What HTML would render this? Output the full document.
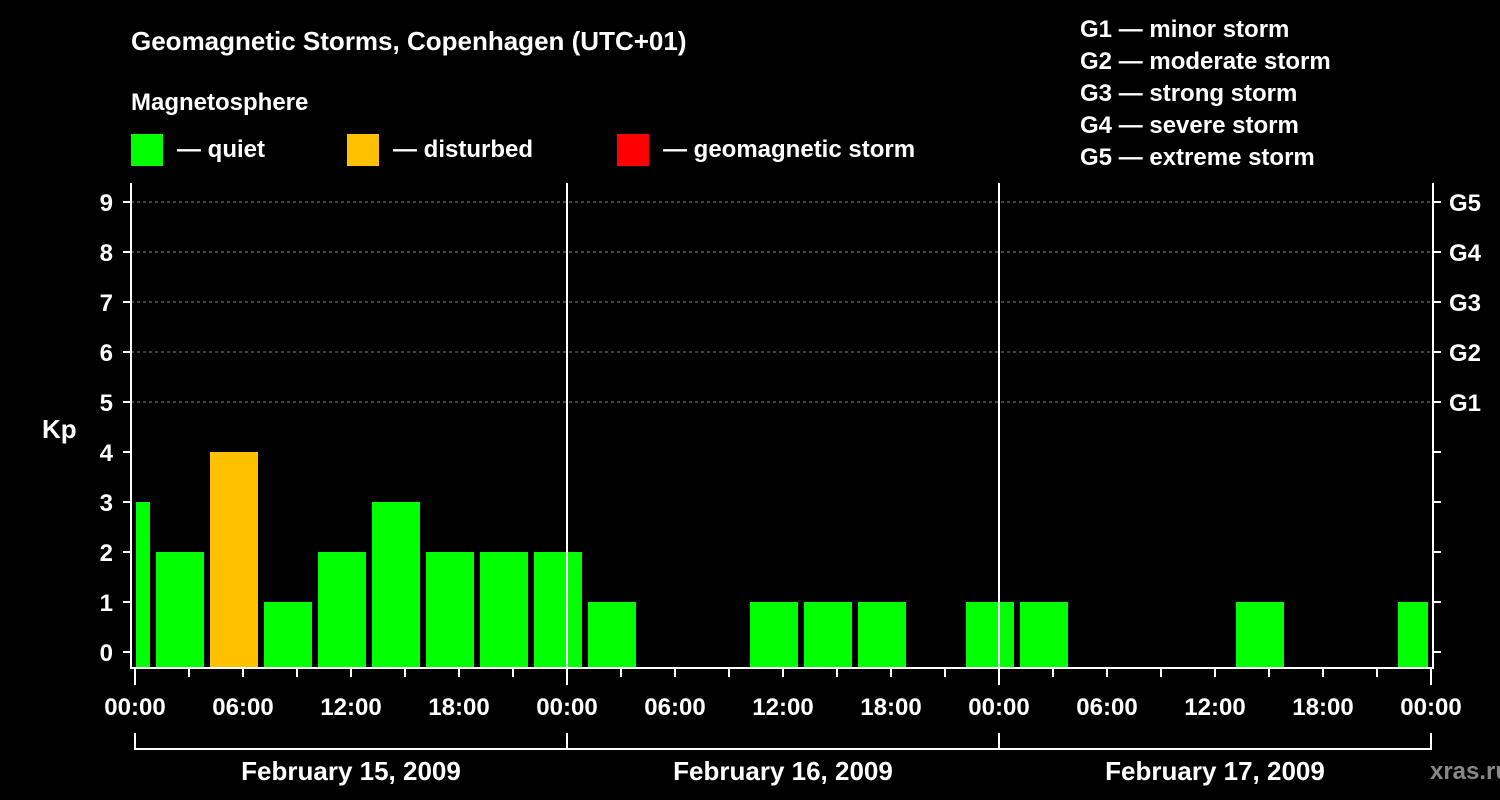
<!DOCTYPE html>
<html><head><meta charset="utf-8"><style>
body{margin:0;background:#000;}
svg{display:block;font-family:"Liberation Sans",sans-serif;font-weight:bold;}
</style></head><body>
<svg id="c" width="1500" height="800" viewBox="0 0 1500 800">
<rect width="1500" height="800" fill="#000"/>
<text x="131" y="50" fill="#fff" font-size="26">Geomagnetic Storms, Copenhagen (UTC+01)</text>
<text x="131" y="110" fill="#fff" font-size="24">Magnetosphere</text>
<g><rect x="131" y="134" width="32" height="32" fill="#00ff00"/><text x="177" y="157" fill="#fff" font-size="24">— quiet</text></g>
<g><rect x="347" y="134" width="32" height="32" fill="#ffc000"/><text x="393" y="157" fill="#fff" font-size="24">— disturbed</text></g>
<g><rect x="617" y="134" width="32" height="32" fill="#ff0000"/><text x="663" y="157" fill="#fff" font-size="24">— geomagnetic storm</text></g>
<g fill="#fff" font-size="24">
<text x="1080" y="37">G1 — minor storm</text><text x="1080" y="69">G2 — moderate storm</text><text x="1080" y="101">G3 — strong storm</text><text x="1080" y="133">G4 — severe storm</text><text x="1080" y="165">G5 — extreme storm</text>
</g>
<text x="42" y="438" fill="#fff" font-size="26">Kp</text>
<text x="1470" y="779" fill="#888" font-size="24" text-anchor="middle">xras.ru</text>
<g id="plot"></g>
</svg>
<script>
const kpValues=[3,2,4,1,2,3,2,2,2,1,0,0,1,1,1,0,1,1,0,0,0,1,0,0,1];
const dayLabels=["February 15, 2009","February 16, 2009","February 17, 2009"];
const yTicks=[0,1,2,3,4,5,6,7,8,9];
const gLabels=["G1","G2","G3","G4","G5"];
const timeLabels=["00:00","06:00","12:00","18:00","00:00","06:00","12:00","18:00","00:00","06:00","12:00","18:00","00:00"];
const X0=135,PX_H=18,L=131,R=1433,T=183,B=668;
const x=h=>X0+h*PX_H, y=v=>652-v*50;
const ns="http://www.w3.org/2000/svg", g=document.getElementById('plot');
function mk(t,a){const e=document.createElementNS(ns,t);for(const k in a)e.setAttribute(k,a[k]);g.appendChild(e);return e;}
yTicks.forEach(v=>{if(v>=5){const l=mk('line',{x1:L,x2:R,y1:y(v),y2:y(v),stroke:'#888','stroke-dasharray':'3,3'});

}
const t=mk('text',{x:113,y:y(v)+9,fill:'#fff','font-size':24,'text-anchor':'end'});t.textContent=v;


mk('line',{x1:L-8,x2:L,y1:y(v),y2:y(v),stroke:'#fff','stroke-width':2});
mk('line',{x1:R,x2:R+8,y1:y(v),y2:y(v),stroke:'#fff','stroke-width':2});});
gLabels.forEach((s,i)=>{const t=mk('text',{x:1449,y:y(i+5)+9,fill:'#fff','font-size':24});t.textContent=s;

});
kpValues.forEach((v,i)=>{if(v<=0)return;let s=x(-2+3*i)+3,e=x(1+3*i)-3;s=Math.max(s,L+5);e=Math.min(e,R-5);
const r=mk('rect',{x:s,y:y(v),width:e-s,height:B-y(v),fill:v>=5?'#ff0000':v>=4?'#ffc000':'#00ff00'});

});
[1,2].forEach(d=>{const l=mk('line',{x1:x(24*d),x2:x(24*d),y1:T,y2:B,stroke:'#fff','stroke-width':2});

});
const f=mk('path',{d:`M${L} ${T}V${B}H${R}V${T}`,fill:'none',stroke:'#fff','stroke-width':2});


for(let h=0;h<=72;h+=3)mk('line',{x1:x(h),x2:x(h),y1:B,y2:B+(h%24==0?17:9),stroke:'#fff','stroke-width':2});
timeLabels.forEach((s,i)=>{const t=mk('text',{x:x(6*i),y:715,fill:'#fff','font-size':24,'text-anchor':'middle'});t.textContent=s;

});
mk('path',{d:`M${x(0)} 733V749H${x(72)}V733M${x(24)} 733V749M${x(48)} 733V749`,fill:'none',stroke:'#fff','stroke-width':2});
dayLabels.forEach((s,i)=>{const t=mk('text',{x:x(24*i+12),y:780,fill:'#fff','font-size':26,'text-anchor':'middle'});t.textContent=s;

});
</script>
</body></html>
